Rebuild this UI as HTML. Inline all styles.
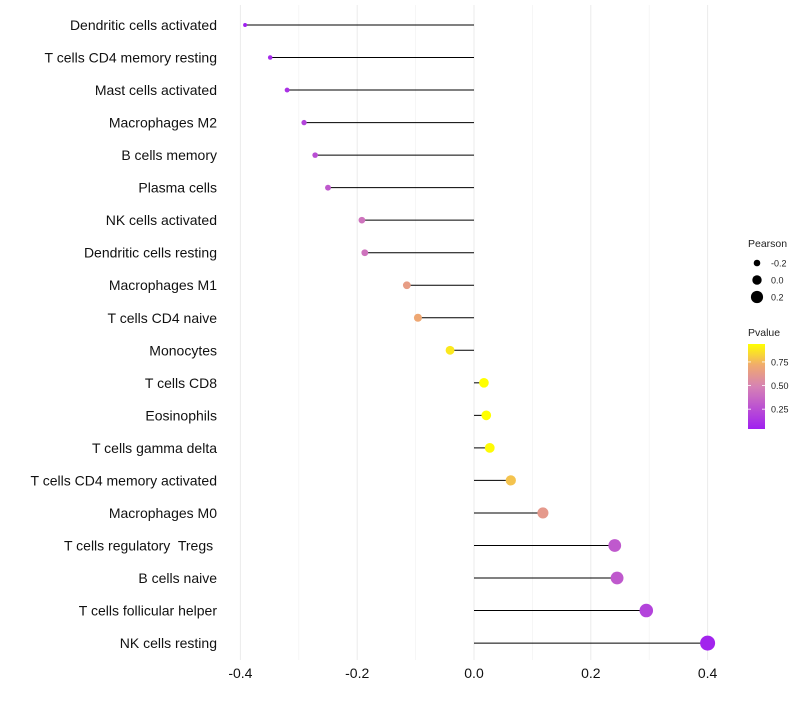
<!DOCTYPE html>
<html><head><meta charset="utf-8"><style>
body{margin:0;background:#fff;}
svg{font-family:"Liberation Sans",sans-serif;}
text{white-space:pre;}
</style></head><body>
<svg id="chart" width="800" height="700"></svg>
<script>
const categories=["Dendritic cells activated","T cells CD4 memory resting","Mast cells activated","Macrophages M2","B cells memory","Plasma cells","NK cells activated","Dendritic cells resting","Macrophages M1","T cells CD4 naive","Monocytes","T cells CD8","Eosinophils","T cells gamma delta","T cells CD4 memory activated","Macrophages M0","T cells regulatory  Tregs ","B cells naive","T cells follicular helper","NK cells resting"];
const pearson=[-0.392,-0.349,-0.320,-0.291,-0.272,-0.250,-0.192,-0.187,-0.115,-0.096,-0.041,0.017,0.021,0.027,0.063,0.118,0.241,0.245,0.295,0.400];
const pvalue=[0.03,0.08,0.12,0.2,0.25,0.3,0.42,0.42,0.64,0.7,0.88,0.95,0.94,0.93,0.78,0.62,0.3,0.3,0.2,0.06];
const xTicks=[-0.4,-0.2,0.0,0.2,0.4];
const xMinor=[-0.3,-0.1,0.1,0.3];
const sizeLegend=[-0.2,0.0,0.2];
const colorTicks=[0.25,0.5,0.75];

const NS="http://www.w3.org/2000/svg";
const svg=document.getElementById('chart');
function el(t,a,p){const e=document.createElementNS(NS,t);for(const k in a)e.setAttribute(k,a[k]);(p||svg).appendChild(e);return e;}
const x=v=>474+v*584;
const y=i=>25+i*32.53;
const r=v=>4.7+7*v;
function lerp(a,b,t){return a.map((c,i)=>Math.round(c+(b[i]-c)*t));}
function col(p){const lo=[160,32,240],mid=[214,130,180],hi3=[240,170,110],hi=[255,255,0];
 let t=(p-0.04)/0.9;t=Math.max(0,Math.min(1,t));
 if(t<0.5)return `rgb(${lerp(lo,mid,t*2)})`;
 if(t<0.75)return `rgb(${lerp(mid,hi3,(t-0.5)*4)})`;
 return `rgb(${lerp(hi3,hi,(t-0.75)*4)})`;}

xMinor.forEach(v=>{const g=el('line',{x1:x(v),x2:x(v),y1:5,y2:660,stroke:'#f4f4f4','stroke-width':0.8});

});
xTicks.forEach(v=>{const g=el('line',{x1:x(v),x2:x(v),y1:5,y2:660,stroke:'#ebebeb','stroke-width':1});


const t=el('text',{x:x(v),y:678,'text-anchor':'middle','font-size':14,fill:'#111'});t.textContent=v.toFixed(1);

});

categories.forEach((c,i)=>{
 const t=el('text',{x:217,y:y(i)+5,'text-anchor':'end','font-size':14,fill:'#111'});t.textContent=c;
 
 
 const l=el('line',{x1:x(0),x2:x(pearson[i]),y1:y(i),y2:y(i),stroke:'#000','stroke-width':1});
 
 
 const d=el('circle',{cx:x(pearson[i]),cy:y(i),r:r(pearson[i]),fill:col(pvalue[i])});
 
 
});

const lt=el('text',{x:748,y:247,'font-size':10.5,fill:'#222'});lt.textContent='Pearson';


sizeLegend.forEach((v,i)=>{const cy=263+i*17;
 const c=el('circle',{cx:757,cy:cy,r:r(v),fill:'#000'});
 
 
 const t=el('text',{x:771,y:cy+3.5,'font-size':9,fill:'#222'});t.textContent=v.toFixed(1);
 
 });

const pt=el('text',{x:748,y:336,'font-size':10.5,fill:'#222'});pt.textContent='Pvalue';


const defs=el('defs',{});
const gr=el('linearGradient',{id:'pg',x1:0,y1:1,x2:0,y2:0},defs);
[0,0.125,0.25,0.375,0.5,0.625,0.75,0.875,1].forEach(o=>el('stop',{offset:o,'stop-color':col(0.04+o*0.9)},gr));
const bar=el('rect',{x:748,y:344,width:17,height:85,fill:'url(#pg)'});


colorTicks.forEach(p=>{const yy=429-(p-0.04)/0.9*85;
 el('line',{x1:748,x2:751,y1:yy,y2:yy,stroke:'#fff','stroke-width':0.8});
 el('line',{x1:762,x2:765,y1:yy,y2:yy,stroke:'#fff','stroke-width':0.8});
 const t=el('text',{x:771,y:yy+3.5,'font-size':9,fill:'#222'});t.textContent=p.toFixed(2);
 
 });
</script>
</body></html>
